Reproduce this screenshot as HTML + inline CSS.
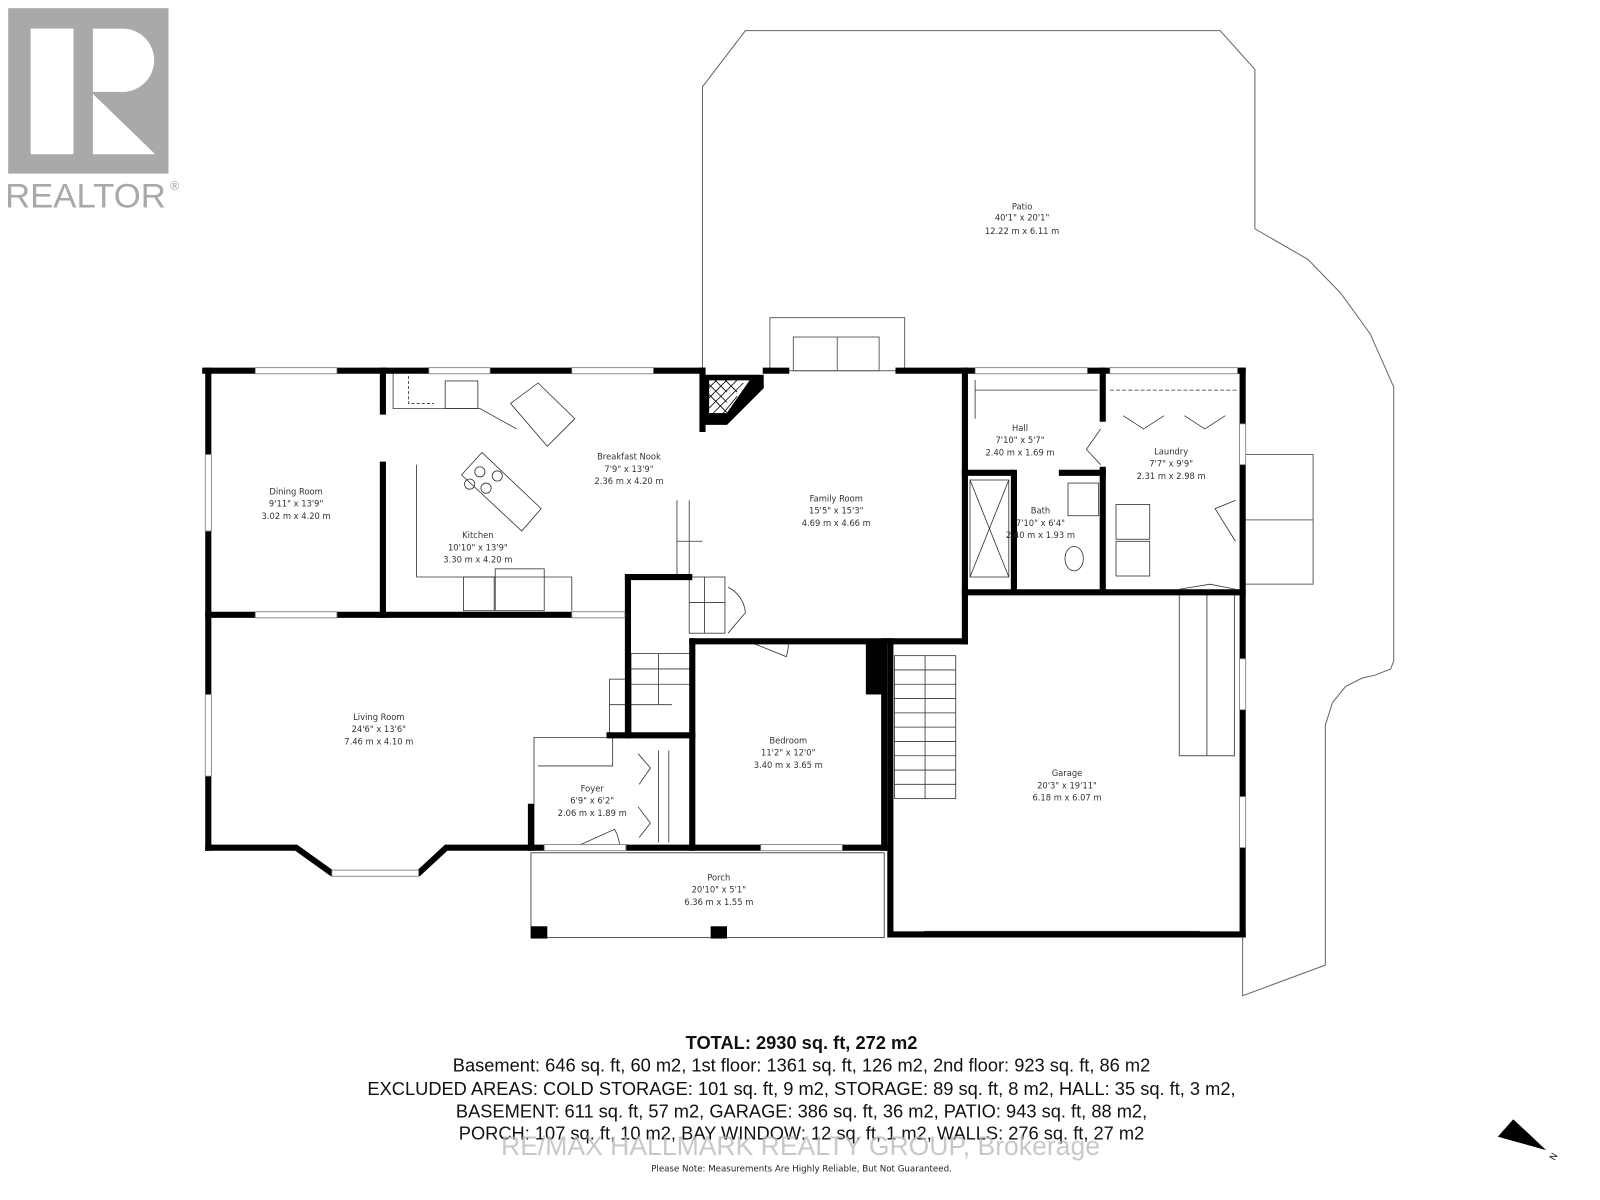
<!DOCTYPE html>
<html><head><meta charset="utf-8"><style>
html,body{margin:0;padding:0;background:#fff;}
svg{display:block}
text{font-family:"DejaVu Sans","Liberation Sans",sans-serif;fill:#333;}
.r{font-size:8.2px;text-anchor:middle}
.b{font-size:17.9px;text-anchor:middle;fill:#111;font-family:"Liberation Sans",sans-serif}
</style></head><body>
<svg width="1600" height="1200" viewBox="0 0 1567 1175" preserveAspectRatio="none" xmlns="http://www.w3.org/2000/svg">
<rect width="1567" height="1175" fill="#fff"/>
<!-- Realtor logo -->
<rect x="8" y="8" width="157" height="162" fill="#a9a9a9"/>
<rect x="30" y="28" width="42" height="123" fill="#fff"/>
<path d="M91 28 H120 A31 31 0 0 1 120 90 H91 Z" fill="#fff"/>
<path d="M91 92 L152 151 H91 Z" fill="#fff"/>
<text x="5" y="203" style="font-size:34px;fill:#a9a9a9;font-family:'Liberation Sans',sans-serif">REALTOR</text>
<text x="165" y="186" style="font-size:12px;fill:#a9a9a9">®</text>

<g fill="none" stroke="#666" stroke-width="1">
<polyline points="688,363 688,85 730,30 1195,30 1229,68 1229,224 1281,254 1313,287 1342,327 1365,379 1365,647 1362,655 1347,661 1334,664 1318,672 1305,688 1298,710 1298,945 1217,975 1217,915"/>
<rect x="754" y="311" width="132" height="52"/>
<rect x="777" y="330" width="84" height="33"/>
<line x1="820" y1="330" x2="820" y2="363"/>
<rect x="1217" y="445" width="69" height="127"/>
<line x1="1217" y1="509" x2="1286" y2="509"/>
</g>

<g fill="none" stroke="#555" stroke-width="1">
<rect x="520" y="835" width="346" height="83"/>
</g>
<rect x="520" y="907" width="16" height="12" fill="#000"/>
<rect x="696" y="907" width="16" height="12" fill="#000"/>

<g fill="none" stroke="#555" stroke-width="1">
<rect x="1155" y="582" width="54" height="158"/>
<line x1="1182" y1="582" x2="1182" y2="740"/>
<line x1="905" y1="912" x2="1175" y2="912"/>
<line x1="905" y1="916" x2="1175" y2="916"/>
</g>

<g fill="none" stroke="#333" stroke-width="0.8">
<rect x="876" y="642" width="60" height="140"/>
<line x1="906" y1="642" x2="906" y2="782"/>
<line x1="876" y1="656" x2="936" y2="656"/><line x1="876" y1="670" x2="936" y2="670"/>
<line x1="876" y1="684" x2="936" y2="684"/><line x1="876" y1="698" x2="936" y2="698"/>
<line x1="876" y1="712" x2="936" y2="712"/><line x1="876" y1="726" x2="936" y2="726"/>
<line x1="876" y1="740" x2="936" y2="740"/><line x1="876" y1="754" x2="936" y2="754"/>
<line x1="876" y1="768" x2="936" y2="768"/>
<rect x="618" y="640" width="60" height="80"/>
<line x1="618" y1="655" x2="678" y2="655"/><line x1="618" y1="670" x2="678" y2="670"/>
<rect x="597" y="665" width="21" height="55"/>
<line x1="597" y1="690" x2="658" y2="690"/>
<line x1="645" y1="640" x2="645" y2="690"/>
<rect x="675" y="565" width="35" height="55"/><line x1="690" y1="565" x2="690" y2="620"/>
<line x1="675" y1="590" x2="710" y2="590"/>
<line x1="663" y1="490" x2="663" y2="565"/><line x1="675" y1="490" x2="675" y2="565"/>
<line x1="663" y1="530" x2="688" y2="530"/>
<polyline points="523,830 523,722 600,722 600,750 527,750"/>
<line x1="645" y1="735" x2="645" y2="825"/><line x1="655" y1="735" x2="655" y2="825"/>
<polyline points="385,363 385,400 470,400 506,420"/>
<polyline points="408,455 408,565 560,565 560,598"/>
<polyline points="400,368 400,395 425,395" stroke-dasharray="3 2"/>
<rect x="436" y="373" width="32" height="27"/>
<polygon points="500,395 527,375 563,410 536,437"/>
<rect x="485" y="557" width="48" height="41"/><rect x="454" y="565" width="30" height="33"/>
<polygon points="452,465 472,443 530,498 511,520"/>
<circle cx="470" cy="462" r="5"/><circle cx="487" cy="466" r="5"/><circle cx="476" cy="478" r="5"/><circle cx="460" cy="474" r="5"/>
<rect x="1093" y="494" width="33" height="34"/><rect x="1093" y="530" width="33" height="34"/>
<rect x="1046" y="473" width="30" height="32"/>
<ellipse cx="1052" cy="547" rx="9" ry="12"/>
<line x1="1087" y1="382" x2="1212" y2="382" stroke-dasharray="4 2"/>
<line x1="955" y1="382" x2="1075" y2="382"/>
<line x1="955" y1="372" x2="955" y2="410"/>
<rect x="950" y="470" width="38" height="95"/>
<line x1="950" y1="470" x2="988" y2="565"/><line x1="988" y1="470" x2="950" y2="565"/>
<path d="M733 628 L770 643 A38 38 0 0 0 772 628"/>
<path d="M562 830 L602 812 A40 40 0 0 1 607 830"/>
<path d="M625 738 L637 752 L626 768"/><path d="M625 790 L637 806 L626 820"/>
<path d="M1100 407 L1120 420 L1140 407"/><path d="M1160 407 L1180 420 L1200 407"/>
<path d="M1210 490 L1190 498 L1210 530"/>
<path d="M1155 577 L1185 572 L1210 577"/>
<path d="M1078 420 L1064 440 L1078 455"/>
<path d="M713 575 A30 30 0 0 1 730 600 L713 620"/>
</g>
<!-- fireplace -->
<polygon points="688,367 748,367 748,380 712,416 688,416" fill="#000"/>
<polygon points="694,372 735,372 712,405 694,405" fill="#fff" stroke="#000"/>
<g stroke="#000" stroke-width="0.8">
<line x1="694" y1="380" x2="702" y2="372"/><line x1="694" y1="390" x2="712" y2="372"/>
<line x1="694" y1="400" x2="722" y2="372"/><line x1="698" y1="405" x2="728" y2="375"/>
<line x1="708" y1="405" x2="722" y2="388"/>
<line x1="700" y1="372" x2="712" y2="384"/><line x1="710" y1="372" x2="722" y2="384"/>
<line x1="694" y1="376" x2="712" y2="394"/><line x1="694" y1="386" x2="712" y2="404"/>
</g>

<g stroke="#000" stroke-width="6" fill="none" stroke-linecap="square">
<line x1="201" y1="363" x2="688" y2="363"/>
<line x1="880" y1="363" x2="1217" y2="363"/>
<line x1="750" y1="363" x2="770" y2="363"/>
<line x1="204" y1="363" x2="204" y2="830"/>
<polyline points="204,830 290,830 325,855 410,855 437,830 520,830 866,830"/>
<line x1="1217" y1="363" x2="1217" y2="915"/>
<polyline points="872,628 872,915 1217,915"/>
<line x1="866" y1="628" x2="866" y2="830"/>
<line x1="204" y1="602" x2="612" y2="602"/>
<line x1="375" y1="363" x2="375" y2="403"/><line x1="375" y1="455" x2="375" y2="602"/>
<line x1="688" y1="363" x2="688" y2="420"/>
<line x1="615" y1="565" x2="615" y2="720"/><line x1="615" y1="565" x2="675" y2="565"/>
<line x1="678" y1="628" x2="678" y2="830"/>
<line x1="678" y1="628" x2="945" y2="628"/>
<line x1="945" y1="363" x2="945" y2="628"/>
<line x1="597" y1="720" x2="678" y2="720"/>
<line x1="520" y1="790" x2="520" y2="830"/>
<line x1="945" y1="580" x2="1217" y2="580"/>
<line x1="945" y1="463" x2="990" y2="463"/>
<line x1="993" y1="463" x2="993" y2="575"/>
<line x1="1080" y1="363" x2="1080" y2="410"/><line x1="1080" y1="460" x2="1080" y2="575"/>
<line x1="1040" y1="463" x2="1080" y2="463"/>
</g>
<rect x="848" y="628" width="18" height="52" fill="#000"/>
<g fill="#fff" stroke="#777" stroke-width="0.8">
<rect x="250" y="360" width="80" height="6"/><rect x="420" y="360" width="60" height="6"/><rect x="560" y="360" width="80" height="6"/>
<rect x="955" y="360" width="110" height="6"/><rect x="1087" y="360" width="125" height="6"/>
<rect x="201" y="445" width="6" height="75"/><rect x="201" y="680" width="6" height="80"/>
<rect x="1214" y="415" width="6" height="40"/><rect x="1214" y="645" width="6" height="50"/><rect x="1214" y="780" width="6" height="50"/>
<rect x="250" y="599" width="80" height="6"/><rect x="560" y="599" width="52" height="6"/>
<rect x="325" y="852" width="85" height="6"/>
<rect x="533" y="827" width="80" height="6"/><rect x="745" y="827" width="80" height="6"/>
</g>

<text class="r" x="1001" y="205">Patio</text><text class="r" x="1001" y="216">40'1" x 20'1"</text><text class="r" x="1001" y="229">12.22 m x 6.11 m</text>
<text class="r" x="290" y="484">Dining Room</text><text class="r" x="290" y="496">9'11" x 13'9"</text><text class="r" x="290" y="508">3.02 m x 4.20 m</text>
<text class="r" x="616" y="450">Breakfast Nook</text><text class="r" x="616" y="462">7'9" x 13'9"</text><text class="r" x="616" y="474">2.36 m x 4.20 m</text>
<text class="r" x="468" y="527">Kitchen</text><text class="r" x="468" y="539">10'10" x 13'9"</text><text class="r" x="468" y="551">3.30 m x 4.20 m</text>
<text class="r" x="819" y="491">Family Room</text><text class="r" x="819" y="503">15'5" x 15'3"</text><text class="r" x="819" y="515">4.69 m x 4.66 m</text>
<text class="r" x="999" y="422">Hall</text><text class="r" x="999" y="434">7'10" x 5'7"</text><text class="r" x="999" y="446">2.40 m x 1.69 m</text>
<text class="r" x="1019" y="503">Bath</text><text class="r" x="1019" y="515">7'10" x 6'4"</text><text class="r" x="1019" y="527">2.40 m x 1.93 m</text>
<text class="r" x="1147" y="445">Laundry</text><text class="r" x="1147" y="457">7'7" x 9'9"</text><text class="r" x="1147" y="469">2.31 m x 2.98 m</text>
<text class="r" x="371" y="705">Living Room</text><text class="r" x="371" y="717">24'6" x 13'6"</text><text class="r" x="371" y="729">7.46 m x 4.10 m</text>
<text class="r" x="772" y="728">Bedroom</text><text class="r" x="772" y="740">11'2" x 12'0"</text><text class="r" x="772" y="752">3.40 m x 3.65 m</text>
<text class="r" x="580" y="775">Foyer</text><text class="r" x="580" y="787">6'9" x 6'2"</text><text class="r" x="580" y="799">2.06 m x 1.89 m</text>
<text class="r" x="1045" y="760">Garage</text><text class="r" x="1045" y="772">20'3" x 19'11"</text><text class="r" x="1045" y="784">6.18 m x 6.07 m</text>
<text class="r" x="704" y="862">Porch</text><text class="r" x="704" y="874">20'10" x 5'1"</text><text class="r" x="704" y="886">6.36 m x 1.55 m</text>

<text class="b" x="785" y="1027" style="font-weight:bold">TOTAL: 2930 sq. ft, 272 m2</text>
<text class="b" x="785" y="1049">Basement: 646 sq. ft, 60 m2, 1st floor: 1361 sq. ft, 126 m2, 2nd floor: 923 sq. ft, 86 m2</text>
<text class="b" x="785" y="1072">EXCLUDED AREAS: COLD STORAGE: 101 sq. ft, 9 m2, STORAGE: 89 sq. ft, 8 m2, HALL: 35 sq. ft, 3 m2,</text>
<text class="b" x="785" y="1094">BASEMENT: 611 sq. ft, 57 m2, GARAGE: 386 sq. ft, 36 m2, PATIO: 943 sq. ft, 88 m2,</text>
<text class="b" x="785" y="1116">PORCH: 107 sq. ft, 10 m2, BAY WINDOW: 12 sq. ft, 1 m2, WALLS: 276 sq. ft, 27 m2</text>
<text x="784" y="1131" style="font-size:26px;text-anchor:middle;fill:#bbb;opacity:0.8;font-family:'Liberation Sans',sans-serif">RE/MAX HALLMARK REALTY GROUP, Brokerage</text>
<text x="785" y="1147" style="font-size:8.5px;text-anchor:middle;fill:#222">Please Note: Measurements Are Highly Reliable, But Not Guaranteed.</text>

<polygon points="1467,1113 1482,1096 1514,1126" fill="#000"/>
<polygon points="1482,1096 1480,1110 1467,1113 1514,1126" fill="#000"/>
<text x="1518" y="1135" style="font-size:9px;fill:#222" transform="rotate(-60 1522 1132)">N</text>
</svg>
</body></html>
